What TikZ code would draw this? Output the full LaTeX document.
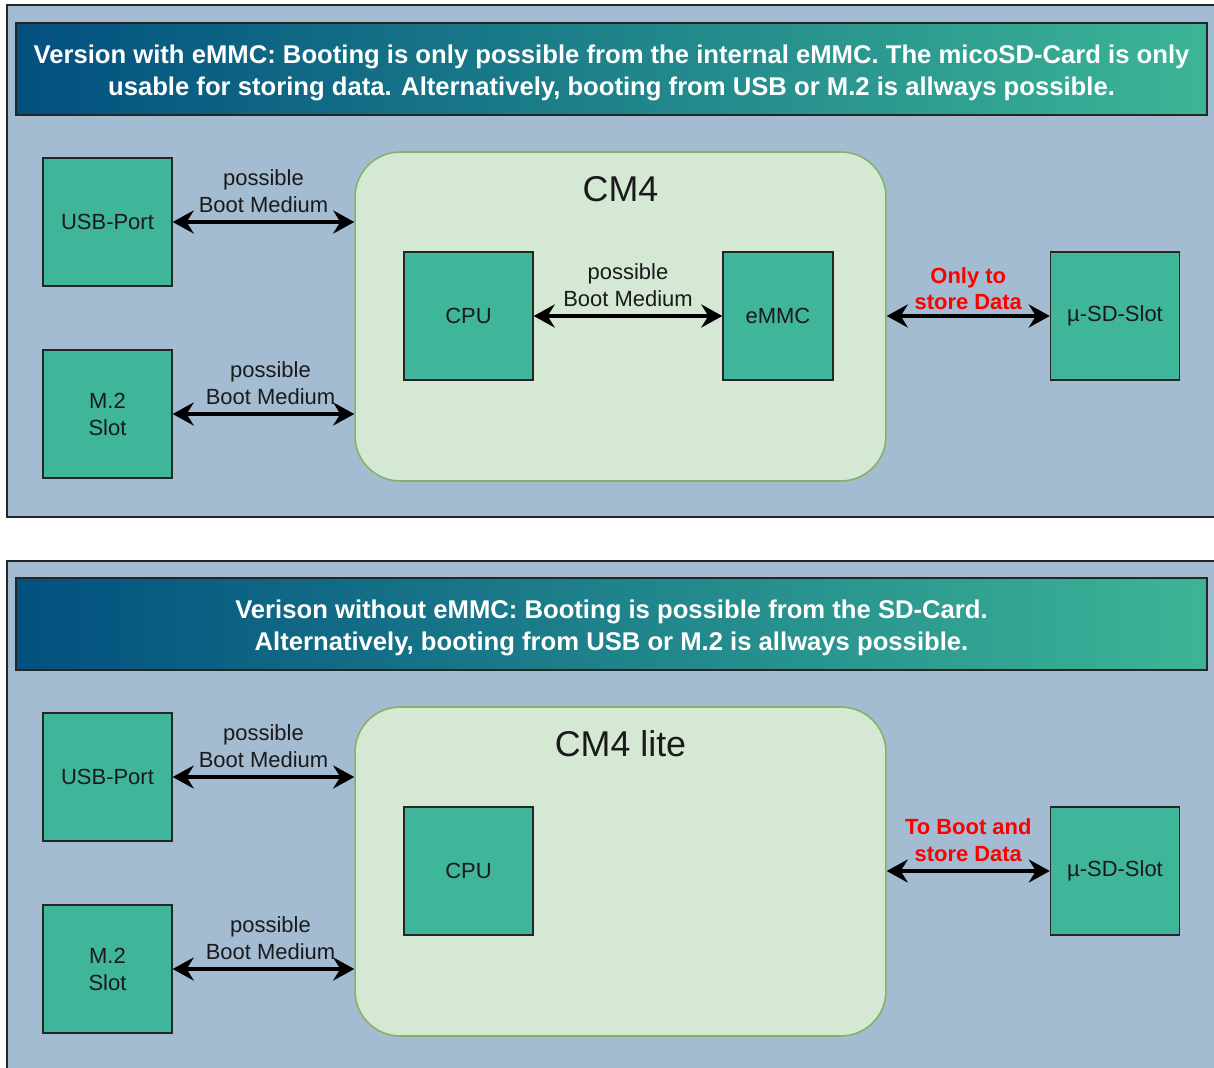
\documentclass[tikz,border=0pt]{standalone}
\usepackage{fontspec}
\setmainfont{Liberation Sans}
\usetikzlibrary{arrows.meta,positioning}
\definecolor{panelbg}{HTML}{A3BCD2}
\definecolor{boxfill}{HTML}{3FB59A}
\definecolor{cmfill}{HTML}{D5E8D4}
\definecolor{cmline}{HTML}{82B366}
\definecolor{headl}{HTML}{02507F}
\definecolor{headr}{HTML}{3CB596}
\definecolor{txt}{HTML}{1A1A1A}
\tikzset{every node/.style={font=\fontsize{12.5}{15.3}\selectfont, text=txt, align=center},
  panel/.style={draw=black!85, fill=panelbg, line width=0.9pt},
  header/.style={draw=black!85, line width=0.8pt, left color=headl, right color=headr, minimum width=23.82cm, minimum height=1.84cm},
  headtext/.style={text=white, font=\bfseries\fontsize{14.6}{18}\selectfont},
  part/.style={draw=black!85, fill=boxfill, line width=0.8pt, minimum width=2.58cm, minimum height=2.56cm},
  cmbox/.style={draw=cmline, fill=cmfill, line width=0.9pt, rounded corners=0.9cm, minimum width=10.62cm, minimum height=6.58cm},
  biarrow/.style={{Stealth[length=0.42cm,width=0.46cm,inset=0.14cm]}-{Stealth[length=0.42cm,width=0.46cm,inset=0.14cm]}, line width=2pt, black},
  redtext/.style={text=red, font=\bfseries\fontsize{12.5}{15.3}\selectfont}}

\begin{document}
\begin{tikzpicture}[x=0.02cm, y=-0.02cm]
   \useasboundingbox (0,0) rectangle (1214,1068);
   \clip (0,0) rectangle (1214,1068);
   \begin{scope}
    \draw[panel] (7,5) rectangle (1240,517);
    \node[header] (head) at (611.5,69) {};
    \node[headtext, yshift=-0.08cm] (headline) at (head.center) {Version with eMMC: Booting is only possible from the internal eMMC. The micoSD-Card is only\\usable for storing data. Alternatively, booting from USB or M.2 is allways possible.};
    \node[part] (usb) at (107.5,222) {USB-Port};
    \node[part] (mtwo) at (107.5,414) {M.2\\Slot};
    \node[cmbox] (cm) at (620.5,316.5) {};
    \node[font=\fontsize{20.4}{24}\selectfont] (cmtitle) at (620.5,189) {CM4};
    \node[part] (cpu) at (468.5,316) {CPU};
    \node[part, minimum width=2.2cm] (emmc) at (778,316) {eMMC};
    \node[part] (sd) at (1115,316) {µ-SD-Slot};
    \draw[biarrow] (usb.east) -- node[above=1pt] {possible\\Boot Medium} (usb.east -| cm.west);
    \draw[biarrow] (mtwo.east) -- node[above=1pt, xshift=4] {possible\\Boot Medium} (mtwo.east -| cm.west);
    \draw[biarrow] (cpu) -- node[above=1pt] {possible\\Boot Medium} (emmc);
    \draw[biarrow] (sd.west -| cm.east) -- node[above=-1pt, redtext] {Only to\\store Data} (sd);
   \end{scope}
   \begin{scope}[shift={(0,555)}]
    \draw[panel] (7,6) rectangle (1240,600);
    \node[header] (head) at (611.5,69) {};
    \node[headtext, yshift=-0.08cm] (headline) at (head.center) {Verison without eMMC: Booting is possible from the SD-Card.\\Alternatively, booting from USB or M.2 is allways possible.};
    \node[part] (usb) at (107.5,222) {USB-Port};
    \node[part] (mtwo) at (107.5,414) {M.2\\Slot};
    \node[cmbox] (cm) at (620.5,316.5) {};
    \node[font=\fontsize{20.4}{24}\selectfont] (cmtitle) at (620.5,189) {CM4 lite};
    \node[part] (cpu) at (468.5,316) {CPU};
    \node[part] (sd) at (1115,316) {µ-SD-Slot};
    \draw[biarrow] (usb.east) -- node[above=1pt] {possible\\Boot Medium} (usb.east -| cm.west);
    \draw[biarrow] (mtwo.east) -- node[above=1pt, xshift=4] {possible\\Boot Medium} (mtwo.east -| cm.west);
    \draw[biarrow] (sd.west -| cm.east) -- node[above=1pt, redtext] {To Boot and\\store Data} (sd);
   \end{scope}
\end{tikzpicture}
\end{document}
